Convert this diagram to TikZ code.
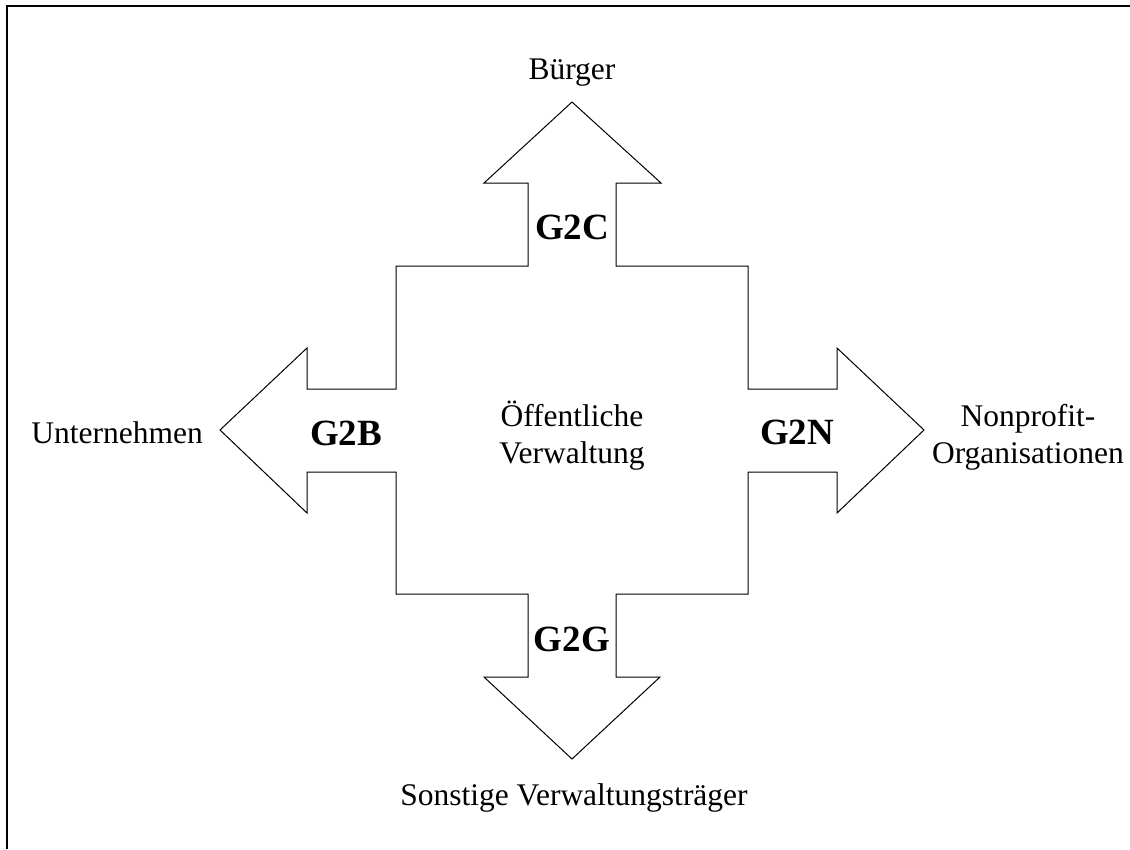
\documentclass[tikz,border=0pt]{standalone}
\usepackage{fontspec}
\setmainfont{Liberation Serif}
\begin{document}
\begin{tikzpicture}[x=1pt,y=-1pt,
  lbl/.style={font=\fontsize{31.5}{37}\selectfont, align=center, inner sep=0pt},
  code/.style={font=\fontsize{37}{42}\selectfont\bfseries, inner sep=0pt, anchor=base},
  crossline/.style={draw=black, line width=1pt, line join=miter}]
\useasboundingbox (0,0) rectangle (1130,849);
% frame (only left and top edges are visible)
\draw[line width=2.2pt] (7,849) -- (7,6) -- (1130,6);
% cross with four arrows
\draw[crossline]
  (572,102) -- (661,183) -- (616,183) -- (616,266) -- (748,266) -- (748,389)
  -- (837,389) -- (837,348) -- (924,430) -- (837,513) -- (837,472) -- (748,472)
  -- (748,594) -- (616,594) -- (616,677) -- (660,677) -- (572,759) -- (484,677)
  -- (528,677) -- (528,594) -- (396,594) -- (396,472) -- (307,472) -- (307,513)
  -- (220,430) -- (307,348) -- (307,389) -- (396,389) -- (396,266) -- (528,266)
  -- (528,183) -- (484,183) -- cycle;
% labels
\node[lbl, anchor=base] (buerger) at (572,79) {Bürger};
\node[lbl, anchor=base east] (unt) at (203,443) {Unternehmen};
\node[lbl, anchor=base] (npo1) at (1028,426) {Nonprofit-};
\node[lbl, anchor=base] (npo2) at (1028,463) {Organisationen};
\node[lbl, anchor=base] (oev1) at (572,426) {Öffentliche};
\node[lbl, anchor=base] (oev2) at (572,463) {Verwaltung};
\node[lbl, anchor=base] (svt) at (574,805) {Sonstige Verwaltungsträger};
\node[code] (g2c) at (572,239) {G2C};
\node[code] (g2b) at (346,445) {G2B};
\node[code] (g2n) at (797,444) {G2N};
\node[code] (g2g) at (572,651) {G2G};
\end{tikzpicture}
\end{document}
